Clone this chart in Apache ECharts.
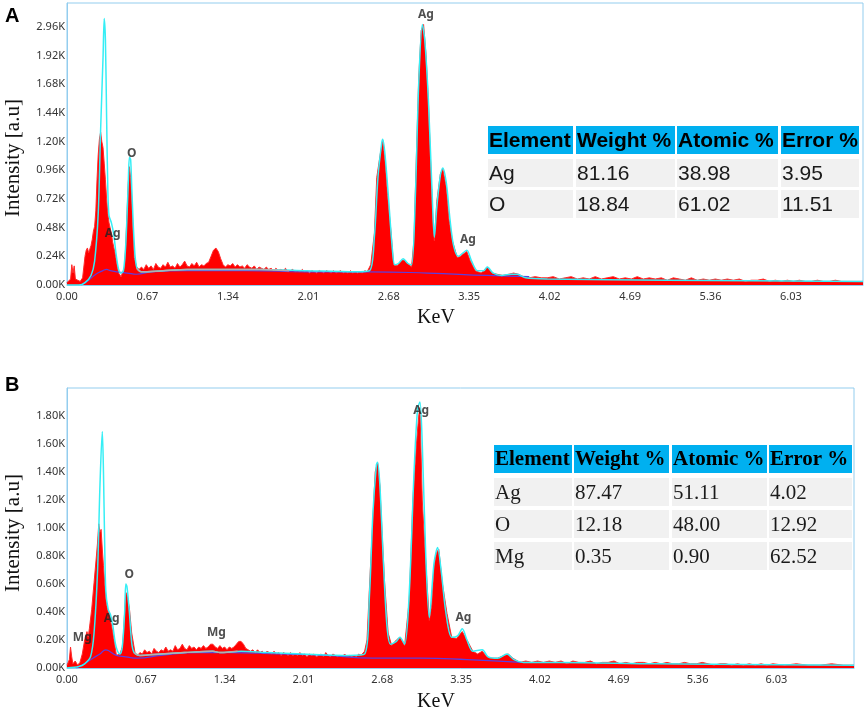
<!DOCTYPE html>
<html>
<head>
<meta charset="utf-8">
<script src="https://cdn.jsdelivr.net/npm/echarts@6/dist/echarts.min.js"></script>
<style>
  html, body { margin: 0; padding: 0; background: #fff; }
  #chart { width: 865px; height: 713px; }
</style>
</head>
<body>
<div id="chart"></div>
<script>
// x tick labels (keV) and y tick labels (as printed in the figure)
var xTickLabels = ['0.00', '0.67', '1.34', '2.01', '2.68', '3.35', '4.02', '4.69', '5.36', '6.03'];
var yTickLabelsA = ['0.00K', '0.24K', '0.48K', '0.72K', '0.96K', '1.20K', '1.44K', '1.68K', '1.92K', '2.96K'];
var yTickLabelsB = ['0.00K', '0.20K', '0.40K', '0.60K', '0.80K', '1.00K', '1.20K', '1.40K', '1.60K', '1.80K'];

// panel A: measured counts [keV, K]
var spectrumA = [
  [0.00,0.02],[0.03,0.05],[0.04,0.17],[0.05,0.10],[0.06,0.16],[0.07,0.05],[0.09,0.04],[0.11,0.03],
  [0.13,0.06],[0.14,0.15],[0.15,0.24],[0.16,0.29],[0.17,0.31],[0.18,0.27],[0.19,0.30],[0.20,0.33],
  [0.21,0.38],[0.22,0.45],[0.23,0.49],[0.24,0.62],[0.25,0.88],[0.26,1.09],[0.27,1.22],[0.28,1.28],
  [0.29,1.20],[0.30,1.15],[0.31,1.02],[0.32,0.88],[0.33,0.72],[0.34,0.60],[0.35,0.52],[0.37,0.43],
  [0.38,0.36],[0.40,0.27],[0.42,0.15],[0.43,0.10],[0.45,0.07],[0.46,0.08],[0.48,0.15],[0.49,0.35],
  [0.50,0.60],[0.51,0.85],[0.52,0.99],[0.53,0.90],[0.54,0.71],[0.55,0.45],[0.56,0.23],[0.58,0.15],
  [0.60,0.13],[0.62,0.15],[0.64,0.13],[0.66,0.17],[0.68,0.14],[0.70,0.16],[0.72,0.13],[0.74,0.18],
  [0.76,0.15],[0.78,0.14],[0.80,0.17],[0.82,0.15],[0.84,0.19],[0.86,0.15],[0.88,0.16],[0.90,0.14],
  [0.92,0.18],[0.94,0.15],[0.96,0.17],[0.98,0.20],[1.00,0.16],[1.02,0.15],[1.04,0.18],[1.06,0.16],
  [1.08,0.19],[1.10,0.15],[1.12,0.17],[1.14,0.16],[1.16,0.18],[1.18,0.19],[1.20,0.24],[1.22,0.29],
  [1.24,0.31],[1.26,0.28],[1.28,0.22],[1.30,0.17],[1.32,0.15],[1.34,0.17],[1.36,0.16],[1.38,0.18],
  [1.40,0.15],[1.42,0.17],[1.44,0.15],[1.46,0.16],[1.48,0.14],[1.50,0.17],[1.52,0.15],[1.54,0.14],
  [1.56,0.16],[1.58,0.13],[1.60,0.15],[1.62,0.14],[1.64,0.13],[1.66,0.15],[1.68,0.13],[1.70,0.14],
  [1.72,0.12],[1.74,0.14],[1.76,0.12],[1.78,0.13],[1.80,0.12],[1.82,0.14],[1.84,0.11],[1.86,0.12],
  [1.88,0.13],[1.90,0.11],[1.92,0.12],[1.94,0.11],[1.96,0.13],[1.98,0.11],[2.00,0.12],[2.02,0.10],
  [2.04,0.12],[2.06,0.11],[2.08,0.10],[2.10,0.12],[2.12,0.11],[2.14,0.10],[2.16,0.12],[2.18,0.11],
  [2.20,0.10],[2.22,0.12],[2.24,0.10],[2.26,0.11],[2.28,0.12],[2.30,0.10],[2.32,0.11],[2.34,0.10],
  [2.36,0.12],[2.38,0.10],[2.40,0.11],[2.42,0.10],[2.44,0.11],[2.46,0.10],[2.48,0.12],[2.50,0.11],
  [2.53,0.17],[2.56,0.43],[2.58,0.90],[2.61,1.10],[2.63,1.21],[2.65,1.03],[2.67,0.75],[2.70,0.43],
  [2.72,0.17],[2.75,0.16],[2.78,0.20],[2.81,0.21],[2.84,0.18],[2.87,0.15],[2.89,0.38],[2.91,1.08],
  [2.93,1.74],[2.95,2.13],[2.97,2.18],[2.99,1.93],[3.01,1.54],[3.03,0.99],[3.05,0.48],[3.06,0.37],
  [3.08,0.70],[3.11,0.93],[3.13,0.97],[3.16,0.82],[3.18,0.56],[3.21,0.37],[3.25,0.23],[3.28,0.24],
  [3.30,0.26],[3.33,0.28],[3.36,0.20],[3.40,0.12],[3.45,0.10],[3.48,0.13],[3.50,0.15],[3.54,0.10],
  [3.58,0.09],[3.63,0.08],[3.68,0.09],[3.72,0.10],[3.76,0.09],[3.80,0.07],[3.85,0.06],[3.90,0.07],
  [3.95,0.06],[4.00,0.06],[4.05,0.07],[4.10,0.05],[4.15,0.06],[4.20,0.07],[4.25,0.05],[4.30,0.06],
  [4.35,0.05],[4.40,0.07],[4.45,0.05],[4.50,0.06],[4.55,0.07],[4.60,0.05],[4.65,0.06],[4.70,0.05],
  [4.75,0.07],[4.80,0.05],[4.85,0.06],[4.90,0.05],[4.95,0.06],[5.00,0.04],[5.05,0.06],[5.10,0.05],
  [5.15,0.04],[5.20,0.06],[5.25,0.04],[5.30,0.05],[5.35,0.04],[5.40,0.05],[5.45,0.04],[5.50,0.05],
  [5.55,0.04],[5.60,0.05],[5.65,0.03],[5.70,0.04],[5.75,0.04],[5.80,0.05],[5.85,0.03],[5.90,0.04],
  [5.95,0.03],[6.00,0.04],[6.05,0.03],[6.10,0.04],[6.15,0.03],[6.20,0.03],[6.25,0.04],[6.30,0.03],
  [6.35,0.03],[6.40,0.04],[6.45,0.03],[6.50,0.03],[6.55,0.03],[6.63,0.03]
];
// panel A: fitted curve (cyan) and its grey segment
var fitA = [
  [0.00,0.00],[0.10,0.00],[0.15,0.02],[0.20,0.08],[0.23,0.20],[0.26,0.60],[0.28,1.30],[0.30,1.90],
  [0.31,2.23],[0.32,2.05],[0.33,1.40],[0.34,0.80],[0.35,0.58],[0.37,0.52],[0.39,0.42],[0.41,0.25],
  [0.43,0.13],[0.45,0.10],[0.47,0.12],[0.49,0.35],[0.51,0.85],[0.52,1.07],[0.53,1.05],[0.54,0.80],
  [0.56,0.35],[0.58,0.15],[0.62,0.11],[0.80,0.12],[1.00,0.13],[1.30,0.13],[1.60,0.13],[2.00,0.12],
  [2.40,0.11],[2.52,0.12],[2.56,0.40],[2.59,0.90],[2.62,1.18],[2.63,1.22],[2.65,1.08],[2.68,0.70],
  [2.71,0.30],[2.73,0.17],[2.76,0.18],[2.80,0.22],[2.84,0.18],[2.87,0.17],[2.90,0.70],[2.93,1.70],
  [2.96,2.18],[2.98,2.05],[3.01,1.55],[3.04,0.80],[3.06,0.40],[3.08,0.65],[3.11,0.92],[3.13,0.98],
  [3.16,0.85],[3.19,0.55],[3.22,0.33],[3.26,0.24],[3.30,0.27],[3.33,0.29],[3.37,0.20],[3.42,0.12],
  [3.47,0.12],[3.50,0.15],[3.55,0.10],[3.62,0.08],[3.70,0.09],[3.75,0.09],[3.82,0.06],[4.00,0.05],
  [5.00,0.04],[6.63,0.03]
];
var greyA = [[0.58,0.14],[0.62,0.11],[0.80,0.12],[1.00,0.13],[1.30,0.13],[1.60,0.13],[1.85,0.12]];
// panel A: background
var bgA = [
  [0.12,0.00],[0.18,0.04],[0.24,0.09],[0.30,0.12],[0.33,0.13],[0.36,0.12],[0.42,0.11],[0.50,0.10],
  [0.58,0.09],[0.70,0.11],[1.00,0.12],[1.50,0.12],[2.00,0.11],[2.50,0.11],[3.00,0.10],[3.50,0.08],
  [3.85,0.07]
];
var peaksA = [[0.38,0.43,'Ag'],[0.54,1.10,'O'],[2.99,2.26,'Ag'],[3.34,0.38,'Ag']];

// panel B
var spectrumB = [
  [0.00,0.02],[0.02,0.06],[0.03,0.15],[0.04,0.08],[0.05,0.03],[0.07,0.05],[0.09,0.02],[0.11,0.04],
  [0.13,0.10],[0.15,0.20],[0.17,0.26],[0.18,0.22],[0.19,0.28],[0.21,0.42],[0.23,0.61],[0.25,0.80],
  [0.26,0.90],[0.27,1.03],[0.28,0.97],[0.29,0.99],[0.30,0.85],[0.31,0.73],[0.33,0.50],[0.34,0.44],
  [0.36,0.37],[0.38,0.30],[0.40,0.20],[0.42,0.09],[0.45,0.10],[0.47,0.15],[0.48,0.25],[0.49,0.40],
  [0.50,0.54],[0.51,0.52],[0.53,0.43],[0.55,0.25],[0.56,0.20],[0.58,0.10],
  [0.60,0.09],[0.62,0.11],[0.64,0.10],[0.66,0.13],[0.68,0.11],[0.70,0.12],[0.72,0.10],[0.74,0.14],
  [0.76,0.12],[0.78,0.11],[0.80,0.13],[0.82,0.12],[0.84,0.15],[0.86,0.12],[0.88,0.13],[0.90,0.12],
  [0.92,0.16],[0.94,0.13],[0.96,0.14],[0.98,0.17],[1.00,0.14],[1.02,0.13],[1.04,0.16],[1.06,0.14],
  [1.08,0.15],[1.10,0.13],[1.12,0.15],[1.14,0.14],[1.16,0.16],[1.18,0.14],[1.20,0.15],[1.22,0.17],
  [1.24,0.17],[1.26,0.15],[1.28,0.14],[1.30,0.16],[1.32,0.14],[1.34,0.15],[1.36,0.13],[1.38,0.15],
  [1.40,0.14],[1.42,0.15],[1.44,0.17],[1.46,0.19],[1.48,0.19],[1.50,0.17],[1.52,0.14],[1.54,0.13],
  [1.56,0.12],[1.58,0.13],[1.60,0.11],[1.62,0.13],[1.64,0.11],[1.66,0.12],[1.68,0.10],[1.70,0.12],
  [1.72,0.11],[1.74,0.10],[1.76,0.12],[1.78,0.10],[1.80,0.11],[1.82,0.09],[1.84,0.11],[1.86,0.10],
  [1.88,0.09],[1.90,0.11],[1.92,0.09],[1.94,0.10],[1.96,0.09],[1.98,0.11],[2.00,0.09],[2.02,0.10],
  [2.04,0.08],[2.06,0.10],[2.08,0.09],[2.10,0.10],[2.12,0.08],[2.14,0.09],[2.16,0.10],[2.18,0.08],
  [2.20,0.11],[2.22,0.09],[2.24,0.08],[2.26,0.10],[2.28,0.09],[2.30,0.08],[2.32,0.09],[2.34,0.08],
  [2.36,0.10],[2.38,0.08],[2.40,0.09],[2.42,0.08],[2.44,0.09],[2.46,0.08],[2.48,0.10],[2.50,0.09],
  [2.53,0.12],[2.55,0.20],[2.58,0.73],[2.60,1.06],[2.62,1.40],[2.64,1.47],[2.66,1.30],[2.67,1.11],
  [2.70,0.61],[2.73,0.25],[2.76,0.16],[2.80,0.20],[2.83,0.22],[2.87,0.16],[2.91,0.49],[2.94,1.20],
  [2.97,1.60],[2.99,1.80],[3.00,1.86],[3.02,1.20],[3.04,0.90],[3.06,0.61],[3.08,0.34],[3.10,0.45],
  [3.12,0.73],[3.14,0.82],[3.16,0.85],[3.19,0.61],[3.23,0.39],[3.27,0.22],[3.31,0.21],[3.36,0.26],
  [3.40,0.20],[3.45,0.12],[3.49,0.10],[3.53,0.12],[3.57,0.08],[3.60,0.07],[3.66,0.07],[3.72,0.09],
  [3.75,0.10],[3.79,0.07],[3.85,0.04],[3.90,0.05],[3.95,0.04],[4.00,0.05],[4.05,0.04],[4.10,0.05],
  [4.15,0.04],[4.20,0.05],[4.25,0.03],[4.30,0.05],[4.35,0.04],[4.40,0.04],[4.45,0.05],[4.50,0.03],
  [4.55,0.04],[4.60,0.04],[4.65,0.05],[4.70,0.03],[4.75,0.04],[4.80,0.03],[4.85,0.04],[4.90,0.04],
  [4.95,0.03],[5.00,0.04],[5.05,0.03],[5.10,0.04],[5.15,0.03],[5.20,0.03],[5.25,0.04],[5.30,0.03],
  [5.35,0.03],[5.40,0.04],[5.45,0.03],[5.50,0.02],[5.55,0.03],[5.60,0.03],[5.65,0.02],[5.70,0.03],
  [5.75,0.02],[5.80,0.03],[5.85,0.02],[5.90,0.03],[5.95,0.02],[6.00,0.03],[6.10,0.02],[6.20,0.03],
  [6.30,0.02],[6.40,0.02],[6.50,0.03],[6.60,0.02],[6.69,0.02]
];
var fitB = [
  [0.00,0.00],[0.10,0.01],[0.15,0.03],[0.20,0.08],[0.23,0.25],[0.26,0.70],[0.28,1.30],[0.30,1.69],
  [0.31,1.40],[0.32,0.90],[0.33,0.55],[0.35,0.42],[0.37,0.38],[0.39,0.30],[0.41,0.18],[0.43,0.12],
  [0.45,0.10],[0.47,0.15],[0.49,0.40],[0.50,0.60],[0.51,0.58],[0.53,0.40],[0.55,0.18],[0.57,0.11],
  [0.62,0.09],[0.80,0.10],[1.00,0.11],[1.24,0.12],[1.30,0.11],[1.48,0.12],[1.70,0.11],[2.00,0.10],
  [2.40,0.09],[2.53,0.10],[2.57,0.50],[2.60,1.10],[2.63,1.45],[2.64,1.47],[2.66,1.30],[2.69,0.75],
  [2.72,0.30],[2.75,0.17],[2.80,0.19],[2.83,0.22],[2.87,0.17],[2.91,0.55],[2.95,1.40],[2.98,1.85],
  [3.00,1.90],[3.02,1.60],[3.05,0.80],[3.08,0.36],[3.12,0.75],[3.15,0.86],[3.18,0.70],[3.22,0.40],
  [3.27,0.22],[3.32,0.23],[3.36,0.28],[3.40,0.20],[3.45,0.12],[3.53,0.13],[3.58,0.08],[3.66,0.07],
  [3.74,0.10],[3.80,0.06],[3.88,0.04],[4.20,0.04],[5.00,0.03],[6.69,0.02]
];
var greyB = [[0.57,0.11],[0.62,0.09],[0.80,0.10],[1.00,0.11],[1.24,0.12],[1.30,0.11],[1.45,0.12]];
var bgB = [
  [0.08,0.00],[0.15,0.03],[0.22,0.07],[0.28,0.10],[0.33,0.13],[0.36,0.12],[0.42,0.09],[0.50,0.08],
  [0.60,0.07],[0.80,0.09],[1.10,0.11],[1.40,0.11],[1.80,0.10],[2.20,0.09],[2.60,0.07],[3.00,0.07],
  [3.40,0.06],[3.86,0.04]
];
var peaksB = [[0.13,0.22,'Mg'],[0.38,0.35,'Ag'],[0.53,0.67,'O'],[1.27,0.25,'Mg'],[3.01,1.84,'Ag'],[3.37,0.36,'Ag']];

// quantification tables
var tableHeader = ['Element', 'Weight %', 'Atomic %', 'Error %'];
var tableRowsA = [['Ag', '81.16', '38.98', '3.95'], ['O', '18.84', '61.02', '11.51']];
var tableRowsB = [['Ag', '87.47', '51.11', '4.02'], ['O', '12.18', '48.00', '12.92'], ['Mg', '0.35', '0.90', '62.52']];

var frameColor = '#93cdee';

function tickFormatter(labels, step) {
  return function (v) {
    var i = Math.round(v / step);
    if (Math.abs(v - i * step) > 1e-6) return '';
    return labels[i] || '';
  };
}

function makeX(gridIndex, max) {
  return {
    type: 'value', gridIndex: gridIndex, min: 0, max: max, interval: 0.67,
    axisLine: { show: true, lineStyle: { color: frameColor, width: 1 } },
    axisTick: { show: false },
    splitLine: { show: false },
    axisLabel: {
      margin: 6, color: '#333', fontSize: 11, fontFamily: 'Noto Sans',
      showMaxLabel: false,
      formatter: tickFormatter(xTickLabels, 0.67)
    }
  };
}

function makeY(gridIndex, max, step, labels) {
  return {
    type: 'value', gridIndex: gridIndex, min: 0, max: max, interval: step,
    axisLine: { show: true, lineStyle: { color: frameColor, width: 1 } },
    axisTick: { show: false },
    splitLine: { show: false },
    axisLabel: {
      margin: 2, color: '#333', fontSize: 11, fontFamily: 'Noto Sans',
      showMaxLabel: false,
      formatter: tickFormatter(labels, step)
    }
  };
}

function panelSeries(idx, spectrum, fit, grey, bg, peaks) {
  return [{
    type: 'line', xAxisIndex: idx, yAxisIndex: idx, data: spectrum,
    showSymbol: false, symbol: 'none', smooth: false,
    lineStyle: { color: '#ff2a2a', width: 1 },
    areaStyle: { color: '#ff0000', opacity: 1 },
    z: 2
  }, {
    type: 'line', xAxisIndex: idx, yAxisIndex: idx, data: bg,
    showSymbol: false, symbol: 'none', smooth: true,
    lineStyle: { color: '#5b3fe0', width: 1.2 },
    z: 3
  }, {
    type: 'line', xAxisIndex: idx, yAxisIndex: idx, data: fit,
    showSymbol: false, symbol: 'none', smooth: 0.3,
    lineStyle: { color: '#36eef5', width: 1.5 },
    z: 4
  }, {
    type: 'line', xAxisIndex: idx, yAxisIndex: idx, data: grey,
    showSymbol: false, symbol: 'none', smooth: 0.3,
    lineStyle: { color: '#b0b0b0', width: 1.5 },
    z: 4
  }, {
    type: 'scatter', xAxisIndex: idx, yAxisIndex: idx, data: peaks,
    symbolSize: 1, itemStyle: { color: 'rgba(0,0,0,0)' },
    label: {
      show: true, position: 'inside', color: '#222', fontSize: 12, fontWeight: 'bold',
      fontFamily: 'Noto Sans',
      formatter: function (p) { return p.data[2]; }
    },
    z: 5
  }];
}

function makeTable(colX, colW, rowY, rowH, fontFamily, rows) {
  var els = [];
  var all = [tableHeader].concat(rows);
  all.forEach(function (row, r) {
    row.forEach(function (txt, c) {
      els.push({
        type: 'rect', z: 100,
        shape: { x: colX[c], y: rowY[r], width: colW[c], height: rowH },
        style: { fill: r === 0 ? '#00b0f0' : '#f1f1f1' }
      });
      els.push({
        type: 'text', z: 101,
        x: colX[c] + 1, y: rowY[r] + rowH / 2 + 1,
        style: {
          text: txt, fill: r === 0 ? '#000' : '#1a1a1a',
          font: (r === 0 ? 'bold ' : '') + '21px ' + fontFamily,
          verticalAlign: 'middle', align: 'left'
        }
      });
    });
  });
  return els;
}

var graphics = [].concat(
  makeTable([488, 576, 677, 781], [85, 99, 101, 78], [126, 159, 190], 28, '"Liberation Sans"', tableRowsA),
  makeTable([494, 574, 672, 769], [78, 95, 95, 83], [445, 478, 510, 542], 28, '"Liberation Serif"', tableRowsB),
  [
    { type: 'text', x: 5, y: 16, style: { text: 'A', font: 'bold 20px "Liberation Sans"', fill: '#000', verticalAlign: 'middle' } },
    { type: 'text', x: 5, y: 385, style: { text: 'B', font: 'bold 20px "Liberation Sans"', fill: '#000', verticalAlign: 'middle' } },
    { type: 'text', x: 13, y: 158, rotation: Math.PI / 2, style: { text: 'Intensity [a.u]', font: '21px "Liberation Serif"', fill: '#111', align: 'center', verticalAlign: 'middle' } },
    { type: 'text', x: 13, y: 533, rotation: Math.PI / 2, style: { text: 'Intensity [a.u]', font: '21px "Liberation Serif"', fill: '#111', align: 'center', verticalAlign: 'middle' } },
    { type: 'text', x: 436, y: 318, style: { text: 'KeV', font: '20px "Liberation Serif"', fill: '#111', align: 'center', verticalAlign: 'middle' } },
    { type: 'text', x: 436, y: 702, style: { text: 'KeV', font: '20px "Liberation Serif"', fill: '#111', align: 'center', verticalAlign: 'middle' } }
  ]
);

var chart = echarts.init(document.getElementById('chart'), null, { renderer: 'canvas' });
chart.setOption({
  animation: false,
  backgroundColor: '#fff',
  grid: [
    { left: 67, top: 3, width: 796, height: 282, show: true, borderColor: frameColor, borderWidth: 1, containLabel: false },
    { left: 67, top: 388, width: 787, height: 280, show: true, borderColor: frameColor, borderWidth: 1, containLabel: false }
  ],
  xAxis: [makeX(0, 6.63), makeX(1, 6.69)],
  yAxis: [makeY(0, 2.36, 0.24, yTickLabelsA), makeY(1, 2.0, 0.2, yTickLabelsB)],
  series: [].concat(
    panelSeries(0, spectrumA, fitA, greyA, bgA, peaksA),
    panelSeries(1, spectrumB, fitB, greyB, bgB, peaksB)
  ),
  graphic: graphics
});
</script>
</body>
</html>
